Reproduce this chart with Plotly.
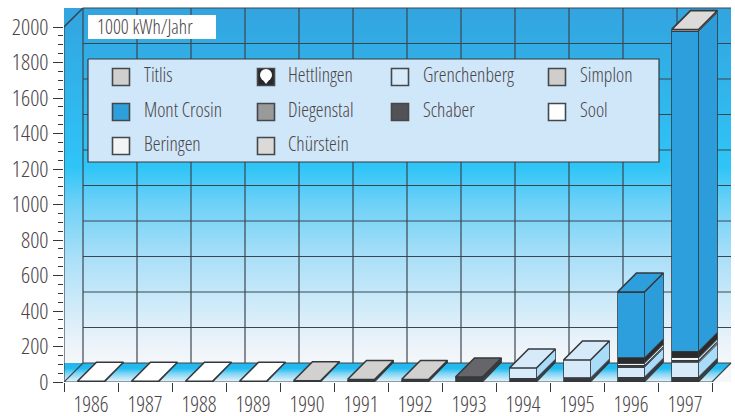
import plotly.graph_objects as go

years = [1986, 1987, 1988, 1989, 1990, 1991, 1992, 1993, 1994, 1995, 1996, 1997]
# Stacked bottom-up, 1000 kWh/Jahr
sool        = [4, 4, 4, 4, 3, 4, 4, 3, 3, 3, 3, 3]
simplon     = [0, 0, 0, 0, 4, 10, 10, 5, 5, 5, 5, 5]
schaber     = [0, 0, 0, 0, 0, 0, 0, 20, 14, 15, 20, 20]
grenchenberg= [0, 0, 0, 0, 0, 0, 0, 0, 57, 101, 55, 80]
chuerstein  = [0, 0, 0, 0, 0, 0, 0, 0, 0, 0, 6, 8]
diegenstal  = [0, 0, 0, 0, 0, 0, 0, 0, 0, 0, 4, 6]
beringen    = [0, 0, 0, 0, 0, 0, 0, 0, 0, 0, 14, 14]
hettlingen  = [0, 0, 0, 0, 0, 0, 0, 0, 0, 0, 30, 38]
mont_crosin = [0, 0, 0, 0, 0, 0, 0, 0, 0, 0, 370, 1801]
titlis      = [0, 0, 0, 0, 0, 0, 0, 0, 0, 0, 0, 10]

stack_names = ["Sool", "Simplon", "Schaber", "Grenchenberg", "Chürstein",
               "Diegenstal", "Beringen", "Hettlingen", "Mont Crosin", "Titlis"]
stack_values = [sool, simplon, schaber, grenchenberg, chuerstein,
                diegenstal, beringen, hettlingen, mont_crosin, titlis]
front_colors = ["#3a3a3c", "#3a3a3c", "#3a3a3c", "#d6eafa", "#e4e6e6",
                "#4a4a4a", "#f4f5f6", "#2b2b2d", "#2e9fdd", "#d4d3d1"]
side_colors = ["#3a3a3c", "#3a3a3c", "#3a3a3c", "#a8dcf8", "#e4e6e6",
               "#4a4a4a", "#cfe8f8", "#2b2b2d", "#2c9cda", "#d4d3d1"]
top_colors = ["#ffffff", "#d2d1cf", "#66666a", "#d6eafa", "#e4e6e6",
              "#8d8d8d", "#f4f5f6", "#2b2b2d", "#2e9fdd", "#dcdbd9"]

legend_names = ["Titlis", "Mont Crosin", "Beringen", "Hettlingen", "Diegenstal",
                "Chürstein", "Grenchenberg", "Schaber", "Simplon", "Sool"]
legend_colors = ["#d0cfcd", "#2e9fdd", "#f3f4f5", "#29292b", "#9a9a9a",
                 "#dcdad8", "#d8ebfa", "#525254", "#d0cecc", "#ffffff"]

y_major = [0, 200, 400, 600, 800, 1000, 1200, 1400, 1600, 1800, 2000]
y_minor = [v for v in range(0, 2001, 50) if v % 200]

FONT = "Open Sans, sans-serif"
INK = "#4a4347"
EDGE = "#33383c"
GRID = "#3b4650"
PX_X, PX_Y = 54.0, 0.1775      # pixels per data unit
L, B = 64, 382                 # pixel of the plot's left edge and baseline


def xp(px):
    return 1985.5 + (px - L) / PX_X


def yp(py):
    return (B - py) / PX_Y


DX, DY = 19 / PX_X, 19 / PX_Y  # depth of the pseudo-3D box
X0, X1 = years[0] - 0.5, years[-1] + 0.5
BAR = 0.5
fig = go.Figure()

# ---- back wall and floor (lower layer)
wall_scale = [[0, "#f5f7f9"], [0.07, "#e8f2fa"], [0.3, "#a9dff8"], [0.45, "#6dd1f7"],
              [0.55, "#30c5f7"], [0.75, "#30b6ec"], [1, "#33a4df"]]
fig.add_trace(go.Scatter(
    x=[X0, X1 + DX, X1 + DX, X0, X0], y=[0, 0, 2000 + DY, 2000 + DY, 0],
    mode="lines", line=dict(width=0), fill="toself",
    fillgradient=dict(type="vertical", start=DY, stop=2000 + DY, colorscale=wall_scale),
    hoverinfo="skip", showlegend=False))
fig.add_trace(go.Scatter(
    x=[X0, X1, X1 + DX, X0, X0], y=[0, 0, DY, DY, 0],
    mode="lines", line=dict(width=0), fill="toself",
    fillgradient=dict(type="vertical", start=0, stop=DY,
                      colorscale=[[0, "#eaf4fa"], [0.45, "#7fd4f5"], [0.7, "#22bdf0"], [1, "#27b2ea"]]),
    hoverinfo="skip", showlegend=False))

gx, gy = [], []
for v in y_major:
    gx += [X0 + DX, X1 + DX, None]
    gy += [v + DY, v + DY, None]
for yr in years:
    gx += [yr - 0.5 + DX, yr - 0.5 + DX, None]
    gy += [DY, 2000 + DY, None]
gx += [X0, X0 + DX, None, X1, X1 + DX, None, X0, X1, None, X0, X0]
gy += [0, DY, None, 0, DY, None, 0, 0, None, 0, 2000]
fig.add_trace(go.Scatter(x=gx, y=gy, mode="lines", line=dict(color=GRID, width=1.2),
                         cliponaxis=False, hoverinfo="skip", showlegend=False))
fig.add_trace(go.Scatter(x=[X0, X0 + DX], y=[2000, 2000 + DY], mode="lines",
                         line=dict(color=GRID, width=1.6), hoverinfo="skip", showlegend=False))

# ---- stacked bars (upper layer)
for name, vals, col in zip(stack_names, stack_values, front_colors):
    fig.add_trace(go.Bar(x=years, y=vals, name=name, width=BAR, xaxis="x2", yaxis="y2",
                         marker=dict(color=col, line=dict(color=EDGE, width=0.8)),
                         showlegend=False))

bases = [0] * len(years)
for name, vals, col in zip(stack_names, stack_values, side_colors):
    sx, sy = [], []
    for i, yr in enumerate(years):
        if vals[i]:
            r = yr + BAR / 2
            a, b = bases[i], bases[i] + vals[i]
            sx += [r, r + DX, r + DX, r, r, None]
            sy += [a, a + DY, b + DY, b, a, None]
            bases[i] = b
    if sx:
        fig.add_trace(go.Scatter(x=sx, y=sy, mode="lines", fill="toself", fillcolor=col,
                                 line=dict(color=EDGE, width=0.8), xaxis="x2", yaxis="y2",
                                 name=name, hoverinfo="skip", showlegend=False))

for k, (name, col) in enumerate(zip(stack_names, top_colors)):
    tx, ty = [], []
    for i, yr in enumerate(years):
        top_idx = max(j for j in range(len(stack_values)) if stack_values[j][i])
        if top_idx == k:
            lft, r, h = yr - BAR / 2, yr + BAR / 2, bases[i]
            tx += [lft, r, r + DX, lft + DX, lft, None]
            ty += [h, h, h + DY, h + DY, h, None]
    if tx:
        fig.add_trace(go.Scatter(x=tx, y=ty, mode="lines", fill="toself", fillcolor=col,
                                 line=dict(color=EDGE, width=1.6), xaxis="x2", yaxis="y2",
                                 name=name, hoverinfo="skip", showlegend=False))

# ---- unit box
fig.add_trace(go.Scatter(
    x=[xp(88), xp(216), xp(216), xp(88), xp(88)], y=[yp(15), yp(15), yp(39), yp(39), yp(15)],
    mode="lines", fill="toself", fillcolor="#ffffff", line=dict(width=0),
    xaxis="x2", yaxis="y2", hoverinfo="skip", showlegend=False))

# ---- legend panel
fig.add_trace(go.Scatter(
    x=[xp(88), xp(659), xp(659), xp(88), xp(88)], y=[yp(59), yp(59), yp(162), yp(162), yp(59)],
    mode="lines", fill="toself", fillcolor="#d0e7f9", line=dict(color=EDGE, width=1.2),
    xaxis="x2", yaxis="y2", hoverinfo="skip", showlegend=False))
col_swatch = [121, 266, 400, 557]
col_text = [144, 288, 423, 580]
row_y = [77, 112, 146]
slots = [(0, 0), (0, 1), (0, 2), (1, 0), (1, 1), (1, 2), (2, 0), (2, 1), (3, 0), (3, 1)]
fig.add_trace(go.Scatter(
    x=[xp(col_swatch[c]) for c, r in slots], y=[yp(row_y[r]) for c, r in slots],
    mode="markers", marker=dict(symbol="square", size=17, color=legend_colors,
                                line=dict(color="#44484c", width=1.6)),
    xaxis="x2", yaxis="y2", hoverinfo="skip", showlegend=False))
fig.add_trace(go.Scatter(
    x=[xp(col_text[c]) for c, r in slots], y=[yp(row_y[r]) for c, r in slots],
    mode="text", text=legend_names, textposition="middle right",
    textfont=dict(family=FONT, size=19.5, color=INK, weight=350),
    xaxis="x2", yaxis="y2", hoverinfo="skip", showlegend=False))
# balloon glyph in the Hettlingen swatch
fig.add_trace(go.Scatter(
    x=[xp(266), xp(266)], y=[yp(75), yp(81)], mode="markers",
    marker=dict(symbol=["circle", "triangle-down"], size=[12, 6], color="#ffffff",
                opacity=1, line=dict(width=0)),
    xaxis="x2", yaxis="y2", hoverinfo="skip", showlegend=False))

x_range = [xp(L), xp(735)]
y_range = [0, yp(0)]
y_font = dict(family=FONT, size=22.5, color=INK, weight=350)
x_font = dict(family=FONT, size=21.5, color=INK, weight=350)
fig.update_layout(
    width=735, height=416, margin=dict(l=L, r=0, t=0, b=416 - B),
    paper_bgcolor="white", plot_bgcolor="rgba(0,0,0,0)", barmode="stack", showlegend=False,
    xaxis=dict(range=x_range, showgrid=False, zeroline=False, showline=False, automargin=False,
               tickmode="array", tickvals=years, ticktext=[str(y) for y in years],
               ticks="", tickfont=x_font, ticklabelstandoff=7,
               minor=dict(tickmode="array", tickvals=[y - 0.5 for y in years] + [X1],
                          ticks="outside", ticklen=9, tickwidth=1.3, tickcolor=EDGE, showgrid=False)),
    yaxis=dict(range=y_range, showgrid=False, zeroline=False, showline=False, automargin=False,
               tickmode="array", tickvals=y_major, ticks="outside", ticklen=10, tickwidth=1.3,
               tickcolor=EDGE, tickfont=y_font,
               minor=dict(tickmode="array", tickvals=y_minor, ticks="outside", ticklen=5,
                          tickwidth=1.3, tickcolor=EDGE, showgrid=False)),
    xaxis2=dict(range=x_range, overlaying="x", anchor="y2", visible=False),
    yaxis2=dict(range=y_range, overlaying="y", anchor="x2", visible=False),
    annotations=[dict(text="1000 kWh/Jahr", x=xp(95), y=yp(26), xref="x", yref="y",
                      xanchor="left", yanchor="middle", showarrow=False, align="left",
                      font=dict(family=FONT, size=19.5, color=INK, weight=350))],
)
fig.write_html("out.html", config={"displayModeBar": False}, post_script=(
    "document.body.style.margin='0';document.body.style.overflow='hidden';"
    "document.querySelectorAll('svg text').forEach(function(t){t.style.fontStretch='75%';});"))
